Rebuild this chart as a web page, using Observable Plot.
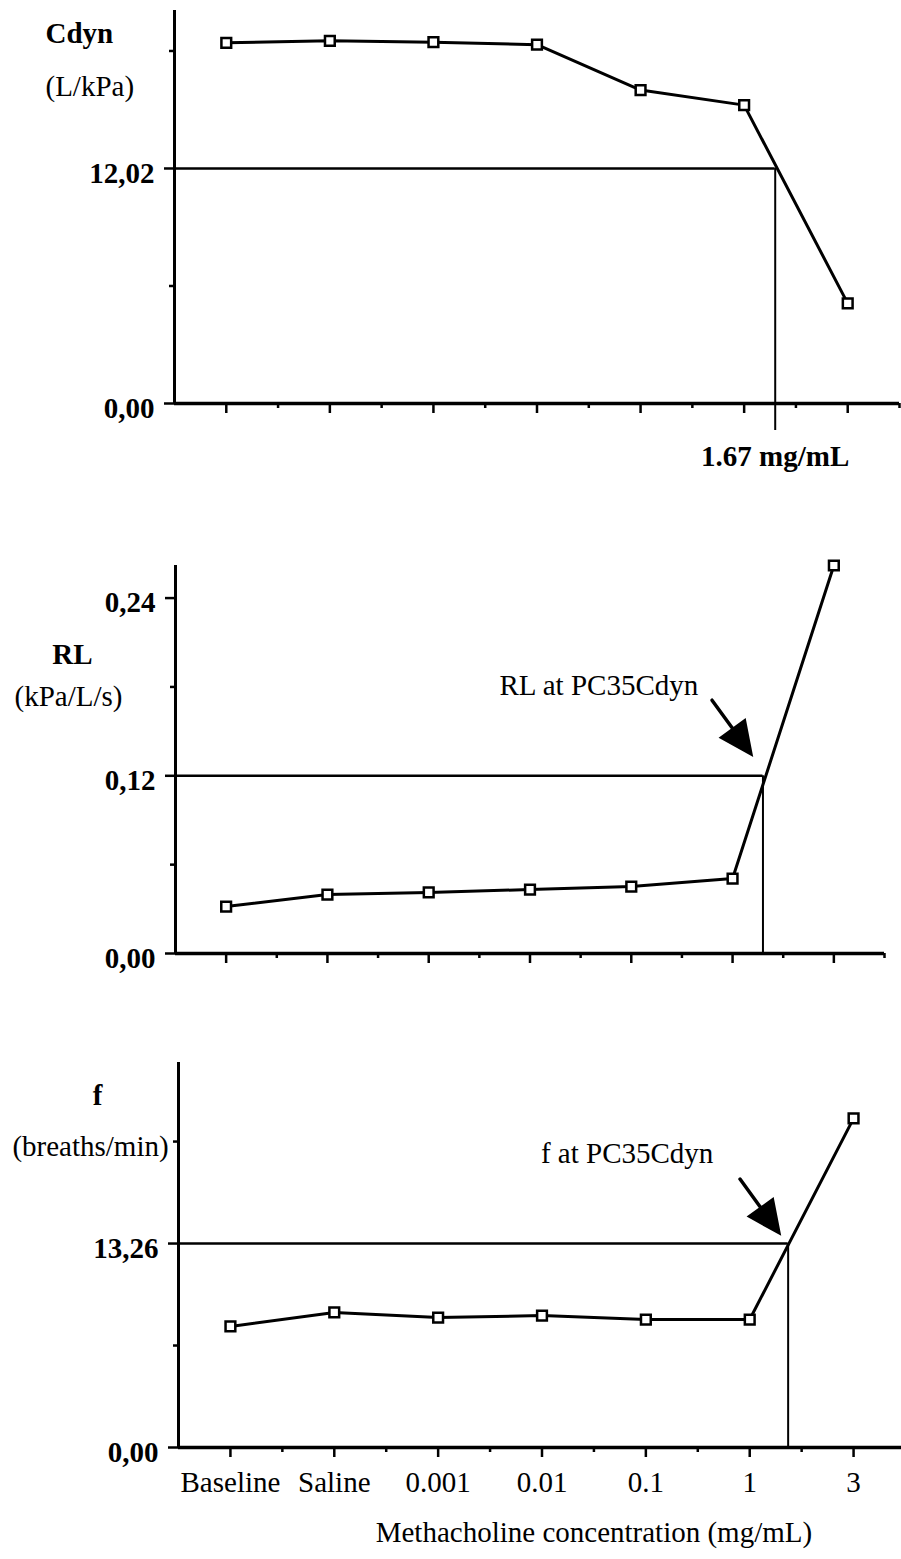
<!DOCTYPE html>
<html><head><meta charset="utf-8">
<script src="https://cdn.jsdelivr.net/npm/d3@7"></script>
<script src="https://cdn.jsdelivr.net/npm/@observablehq/plot@0.6"></script>
<style>body{margin:0;background:#fff;} #chart svg{display:block;}</style>
</head><body><div id="chart"></div>
<script>
// ---- data ----
const categories = ["Baseline", "Saline", "0.001", "0.01", "0.1", "1", "3"];
const cdyn = [18.45, 18.55, 18.48, 18.35, 16.03, 15.26, 5.12];
const rl = [0.0317, 0.0398, 0.0412, 0.0432, 0.0452, 0.0506, 0.262];
const freq = [7.87, 8.78, 8.45, 8.58, 8.32, 8.32, 21.4];

const cdynTicks = [0, 12.02], cdynTickLabels = ["0,00", "12,02"], cdynMinor = [6.01, 18.03];
const rlTicks = [0, 0.12, 0.24], rlTickLabels = ["0,00", "0,12", "0,24"], rlMinor = [0.06, 0.18];
const fTicks = [0, 13.26], fTickLabels = ["0,00", "13,26"], fMinor = [6.63, 19.89];

const titles = ["Cdyn", "RL", "f"];
const units = ["(L/kPa)", "(kPa/L/s)", "(breaths/min)"];
const thresholds = [12.02, 0.12, 13.26];
const pcPositions = [5.3, 5.3, 5.37];       // x position (category index) of PC35Cdyn
const pcLabel = "1.67 mg/mL";
const annotations = [
  null,
  {text: "RL at PC35Cdyn", x: 3.68, y: 0.181, tipX: 5.18, tipY: 0.135},
  {text: "f at PC35Cdyn", x: 3.82, y: 19.12, tipX: 5.28, tipY: 13.98}
];
const xTitle = "Methacholine concentration (mg/mL)";

// ---- drawing ----
const FONT = "Liberation Serif, 'Times New Roman', Times, serif";
const FS = 29;
const majorX = d3.range(categories.length);
const minorX = majorX.map(i => i + 0.5);

const arrowShape = {
  draw(context, l) {
    const head = 30, half = 14;
    context.moveTo(0, 0);
    context.lineTo(0, head - l);
    context.moveTo(-half, head - l);
    context.lineTo(0, -l);
    context.lineTo(half, head - l);
    context.closePath();
  }
};

function panel(cfg) {
  const series = categories.map((c, i) => ({i, c, v: cfg.values[i]}));
  const marks = [
    Plot.ruleX([-0.5], {y1: 0, y2: cfg.yMax, strokeWidth: 3}),
    Plot.ruleY([0], {x1: -0.5, x2: 6.5, strokeWidth: 3.5}),
    Plot.axisY(cfg.ticks, {tickSize: 10, fill: "none", strokeWidth: 2.5, label: null}),
    Plot.axisY(cfg.minor, {tickSize: 5, fill: "none", strokeWidth: 2.5, label: null}),
    Plot.axisY(cfg.ticks, {tickSize: 0, tickPadding: 20, tickFormat: d => cfg.tickLabels[cfg.ticks.indexOf(d)],
      fontSize: FS, fontWeight: "bold", fontFamily: FONT, dy: 5, label: null}),
    Plot.axisX(majorX, {tickSize: 10, fill: "none", strokeWidth: 2.5, label: null}),
    Plot.axisX(minorX, {tickSize: 5, fill: "none", strokeWidth: 2.5, label: null}),
    Plot.ruleY([cfg.threshold], {x1: -0.5, x2: cfg.pcX, strokeWidth: 2.5}),
    Plot.ruleX([cfg.pcX], {y1: cfg.threshold, y2: cfg.vBottom, strokeWidth: 2}),
    Plot.line(series, {x: "i", y: "v", strokeWidth: 3}),
    Plot.dot(series, {x: "i", y: "v", symbol: "square", r: 5.5, stroke: "black", fill: "white", strokeWidth: 2.5}),
    Plot.text([cfg.title], {frameAnchor: "top-left", textAnchor: cfg.titleAnchor, dx: cfg.titleX - cfg.left,
      dy: cfg.titleY - cfg.marginTop, fontSize: FS, fontWeight: "bold", fontFamily: FONT}),
    Plot.text([cfg.unit], {frameAnchor: "top-left", textAnchor: cfg.titleAnchor, dx: cfg.unitX - cfg.left,
      dy: cfg.unitY - cfg.marginTop, fontSize: FS, fontFamily: FONT})
  ];
  if (cfg.ann) {
    marks.push(Plot.text([cfg.ann], {x: "x", y: "y", text: "text", fontSize: FS, fontFamily: FONT}));
    marks.push(Plot.vector([cfg.ann], {x: "tipX", y: "tipY", length: 66, rotate: 144, anchor: "end",
      shape: arrowShape, stroke: "black", fill: "black", strokeWidth: 3.5, strokeLinejoin: "miter"}));
  }
  if (cfg.pcText) {
    marks.push(Plot.text([{x: cfg.pcX, y: 0, t: cfg.pcText}], {x: "x", y: "y", text: "t", dy: 53,
      fontSize: FS, fontWeight: "bold", fontFamily: FONT}));
  }
  if (cfg.xLabels) {
    marks.push(Plot.axisX(majorX, {tickSize: 0, tickPadding: 24, tickFormat: i => categories[i],
      fontSize: FS, fontFamily: FONT, label: null}));
    marks.push(Plot.text([{x: 3.5, t: xTitle}], {x: "x", text: "t", frameAnchor: "bottom", dy: 94,
      fontSize: FS, fontFamily: FONT}));
  }
  return Plot.plot({
    width: 901, height: cfg.height,
    marginLeft: cfg.left, marginRight: 0, marginTop: cfg.marginTop, marginBottom: cfg.marginBottom,
    style: {fontFamily: FONT, color: "black", background: "white", overflow: "hidden"},
    x: {domain: [-0.5, 6.5], range: [cfg.left, cfg.right]},
    y: {domain: [0, cfg.yMax], label: null},
    marks
  });
}

const root = document.getElementById("chart");
root.appendChild(panel({values: cdyn, yMax: 20.1, ticks: cdynTicks, tickLabels: cdynTickLabels, minor: cdynMinor,
  threshold: thresholds[0], pcX: pcPositions[0], vBottom: -1.38, height: 480, marginTop: 10, marginBottom: 77,
  left: 174, right: 899, title: titles[0], unit: units[0], titleAnchor: "start", titleX: 45, titleY: 22, unitX: 45, unitY: 75,
  pcText: pcLabel}));
root.appendChild(panel({values: rl, yMax: 0.262, ticks: rlTicks, tickLabels: rlTickLabels, minor: rlMinor,
  threshold: thresholds[1], pcX: pcPositions[1], vBottom: 0, height: 520, marginTop: 85, marginBottom: 47,
  left: 175, right: 884, title: titles[1], unit: units[1], titleAnchor: "middle", titleX: 72, titleY: 163, unitX: 68, unitY: 205,
  ann: annotations[1]}));
root.appendChild(panel({values: freq, yMax: 25.03, ticks: fTicks, tickLabels: fTickLabels, minor: fMinor,
  threshold: thresholds[2], pcX: pcPositions[2], vBottom: 0, height: 559, marginTop: 62, marginBottom: 112,
  left: 178, right: 905, title: titles[2], unit: units[2], titleAnchor: "middle", titleX: 97, titleY: 84, unitX: 90, unitY: 135,
  ann: annotations[2], xLabels: true}));
</script></body></html>
